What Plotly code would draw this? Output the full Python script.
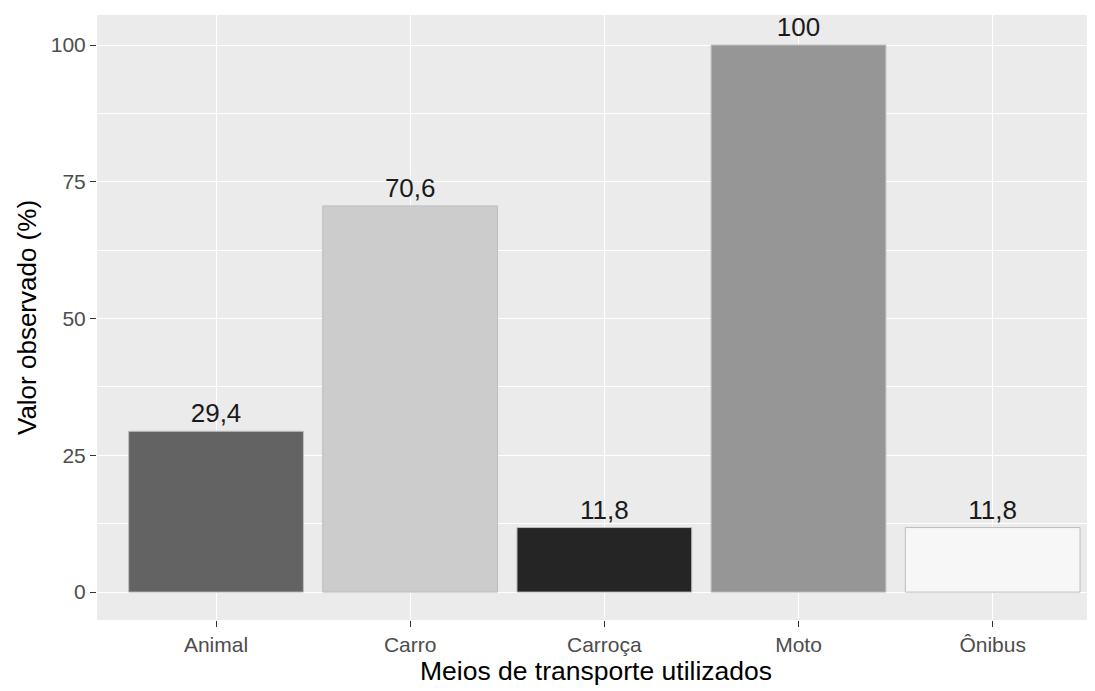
import plotly.graph_objects as go

# data
categorias = ["Animal", "Carro", "Carroça", "Moto", "Ônibus"]
valores = [29.4, 70.6, 11.8, 100, 11.8]
rotulos = ["29,4", "70,6", "11,8", "100", "11,8"]
cores = ["#636363", "#cccccc", "#252525", "#969696", "#f7f7f7"]

fig = go.Figure()

fig.add_trace(
    go.Bar(
        x=categorias,
        y=valores,
        width=0.9,
        marker=dict(color=cores, line=dict(color="#bdbdbd", width=1)),
        text=rotulos,
        textposition="outside",
        textfont=dict(size=26, color="#1a1a1a"),
        cliponaxis=False,
        showlegend=False,
    )
)

fig.update_layout(
    width=1087,
    height=683,
    paper_bgcolor="white",
    plot_bgcolor="#ebebeb",
    font=dict(family="Liberation Sans, Arial, sans-serif"),
    margin=dict(l=89, r=0, t=7, b=71),
    xaxis=dict(
        range=[-0.613, 4.527],
        showgrid=True,
        gridcolor="white",
        gridwidth=1.2,
        ticks="outside",
        ticklen=6,
        tickcolor="#333333",
        tickfont=dict(size=21, color="#4d4d4d"),
        title=dict(text="Meios de transporte utilizados",
                   font=dict(size=26.5, color="black"), standoff=2),
        zeroline=False,
    ),
    yaxis=dict(
        range=[-5.1, 105.5],
        tickvals=[0, 25, 50, 75, 100],
        showgrid=True,
        gridcolor="white",
        gridwidth=1.4,
        minor=dict(tickvals=[12.5, 37.5, 62.5, 87.5], showgrid=True,
                   gridcolor="white", gridwidth=0.7),
        ticks="outside",
        ticklen=6,
        tickcolor="#333333",
        tickfont=dict(size=21, color="#4d4d4d"),
        title=dict(text="Valor observado (%)",
                   font=dict(size=26, color="black"), standoff=6),
        zeroline=False,
    ),
    bargap=0.1,
)

fig.write_html("out.html")
